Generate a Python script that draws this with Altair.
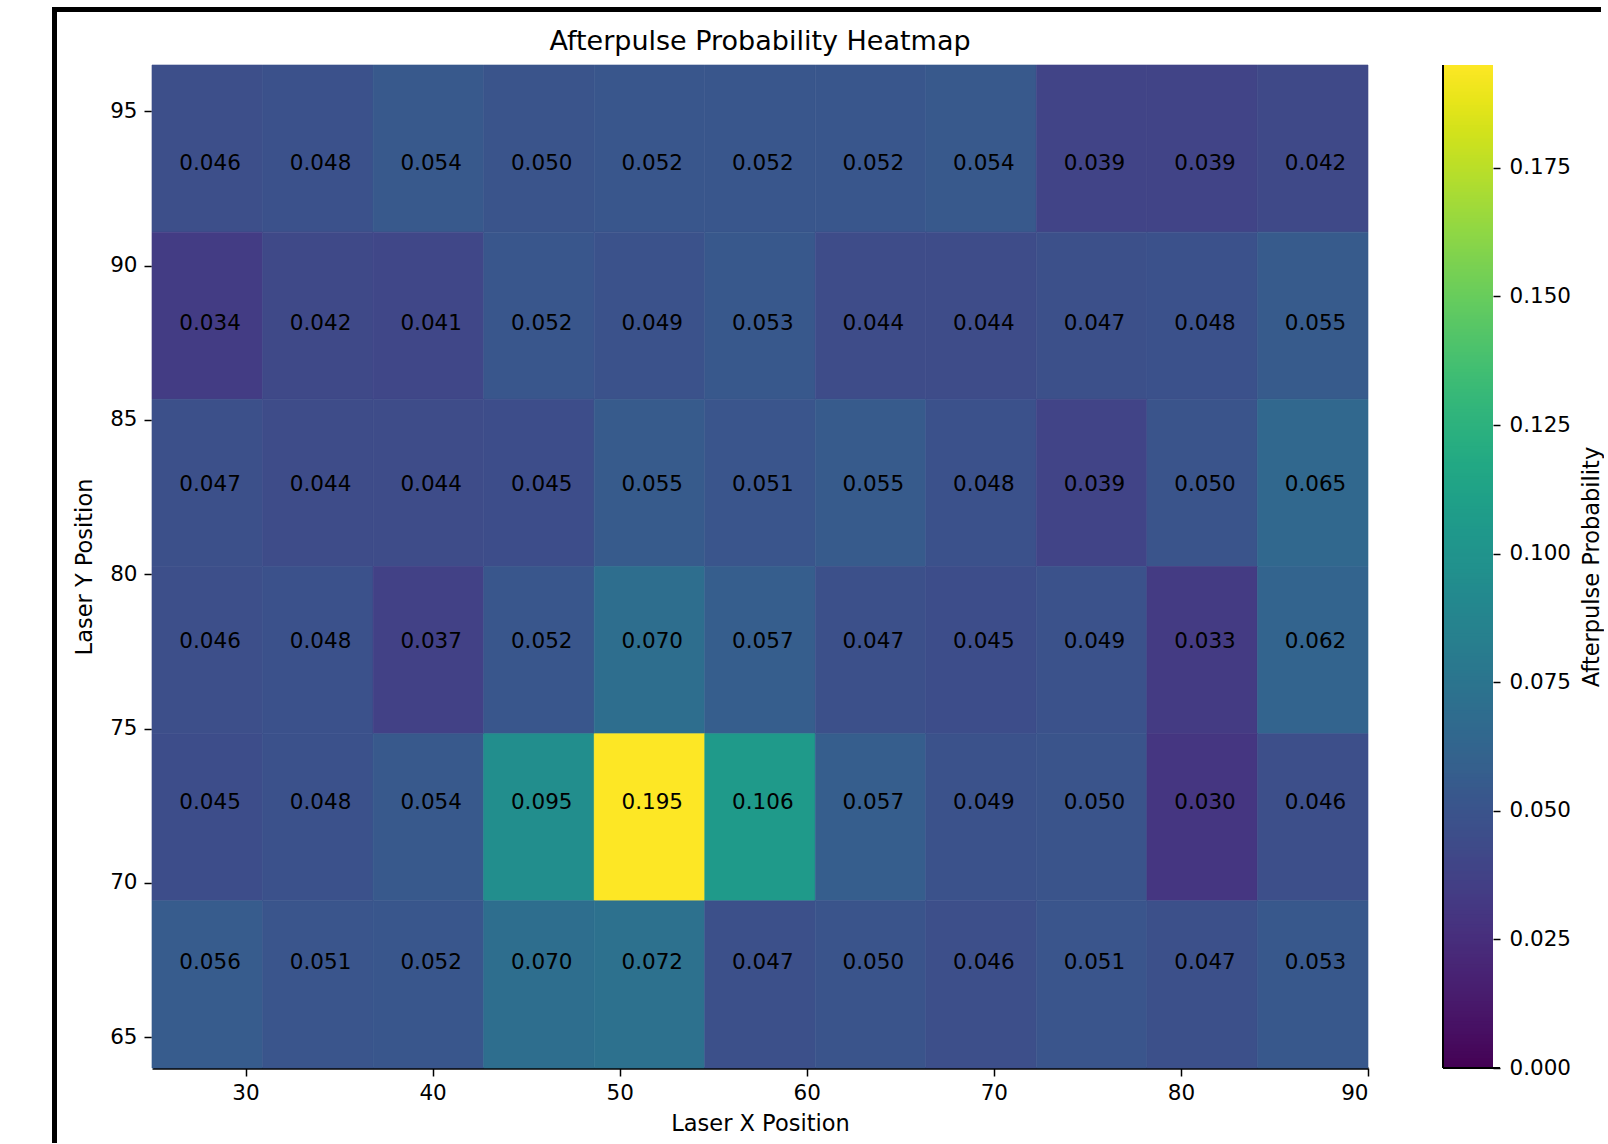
import altair as alt
import numpy as np
import pandas as pd

# Afterpulse probability per laser spot, rows listed from top (high Y) to bottom (low Y)
probability = [
    [0.046, 0.048, 0.054, 0.050, 0.052, 0.052, 0.052, 0.054, 0.039, 0.039, 0.042],
    [0.034, 0.042, 0.041, 0.052, 0.049, 0.053, 0.044, 0.044, 0.047, 0.048, 0.055],
    [0.047, 0.044, 0.044, 0.045, 0.055, 0.051, 0.055, 0.048, 0.039, 0.050, 0.065],
    [0.046, 0.048, 0.037, 0.052, 0.070, 0.057, 0.047, 0.045, 0.049, 0.033, 0.062],
    [0.045, 0.048, 0.054, 0.095, 0.195, 0.106, 0.057, 0.049, 0.050, 0.030, 0.046],
    [0.056, 0.051, 0.052, 0.070, 0.072, 0.047, 0.050, 0.046, 0.051, 0.047, 0.053],
]

x_ticks = [30, 40, 50, 60, 70, 80, 90]
y_ticks = [65, 70, 75, 80, 85, 90, 95]
cbar_ticks = [0.0, 0.025, 0.05, 0.075, 0.1, 0.125, 0.15, 0.175]

# image extent (left, right, bottom, top) and the Y coordinate of each row's label
x_lo, x_hi = 25.0, 90.0
y_lo, y_hi = 64.0, 96.5
label_y = [93.3, 88.1, 82.9, 77.8, 72.6, 67.4]

n_rows, n_cols = len(probability), len(probability[0])
x_edges = np.linspace(x_lo, x_hi, n_cols + 1)
y_edges = np.linspace(y_hi, y_lo, n_rows + 1)

records = []
for r, row in enumerate(probability):
    for c, v in enumerate(row):
        records.append({
            "x0": x_edges[c], "x1": x_edges[c + 1],
            "y0": y_edges[r + 1], "y1": y_edges[r],
            "xc": (x_edges[c] + x_edges[c + 1]) / 2 + 0.15, "yc": label_y[r],
            "p": v,
        })
cells_df = pd.DataFrame(records)
vmax = float(cells_df["p"].max())

FONT = "DejaVu Sans"
W, H = 1216, 1003
CB_W = 50
GAP = 75

color_scale = alt.Scale(scheme="viridis", domain=[0, vmax])
x_scale = alt.Scale(domain=[x_lo, x_hi], nice=False, zero=False)
y_scale = alt.Scale(domain=[y_lo, y_hi], nice=False, zero=False)

cells = alt.Chart(cells_df).mark_rect(strokeWidth=0.6).encode(
    x=alt.X("x0:Q", scale=x_scale,
            axis=alt.Axis(values=x_ticks, title="Laser X Position", format="d",
                          domainColor="black", domainWidth=2.5,
                          labelPadding=6, titlePadding=9)),
    x2="x1:Q",
    y=alt.Y("y0:Q", scale=y_scale,
            axis=alt.Axis(values=y_ticks, title="Laser Y Position", format="d",
                          domainColor="#e2e2e2", domainWidth=1.5,
                          labelPadding=7, titlePadding=13)),
    y2="y1:Q",
    color=alt.Color("p:Q", scale=color_scale, legend=None),
    stroke=alt.Stroke("p:Q", scale=color_scale, legend=None),
)

labels = alt.Chart(cells_df).mark_text(fontSize=21.5, font=FONT, color="black").encode(
    x="xc:Q",
    y="yc:Q",
    text=alt.Text("p:Q", format=".3f"),
)

heatmap = alt.layer(cells, labels).properties(
    width=W, height=H,
    title=alt.TitleParams("Afterpulse Probability Heatmap", fontSize=27, font=FONT,
                          fontWeight="normal", anchor="middle", frame="group",
                          baseline="alphabetic", offset=-12, color="black"),
)

# colour bar built from a fine ramp of the same colour scale
stops = np.linspace(0, vmax, 301)
step = stops[1] - stops[0]
cb_df = pd.DataFrame({
    "lo": stops[:-1],
    "hi": np.minimum(stops[:-1] + 2 * step, vmax),
    "mid": (stops[:-1] + stops[1:]) / 2,
})
ramp = alt.Chart(cb_df).mark_rect().encode(
    x=alt.value(0), x2=alt.value(CB_W),
    y=alt.Y("lo:Q", scale=alt.Scale(domain=[0, vmax], nice=False, zero=False),
            axis=alt.Axis(orient="right", values=cbar_ticks, format=".3f",
                          title="Afterpulse Probability", titleAngle=270,
                          titleBaseline="top",
                          domain=False, tickSize=7, labelPadding=9,
                          titlePadding=10)),
    y2="hi:Q",
    color=alt.Color("mid:Q", scale=color_scale, legend=None),
)
cb_left = alt.Chart(pd.DataFrame({"edge": ["left"]})).mark_rule(
    color="black", strokeWidth=2
).encode(x=alt.value(0), y=alt.value(0), y2=alt.value(H))
cb_bottom = alt.Chart(pd.DataFrame({"edge": ["bottom"]})).mark_rule(
    color="black", strokeWidth=2
).encode(x=alt.value(0), x2=alt.value(CB_W + 7), y=alt.value(H))

# outer black frame of the figure, offset from the colour bar's origin
origin_x = 100 + W + GAP
frame_left = alt.Chart(pd.DataFrame({"edge": ["left"]})).mark_rule(
    color="black", strokeWidth=5
).encode(x=alt.value(-origin_x + 2.5), y=alt.value(-58), y2=alt.value(1078))
frame_top = alt.Chart(pd.DataFrame({"edge": ["top"]})).mark_rule(
    color="black", strokeWidth=5
).encode(x=alt.value(-origin_x), x2=alt.value(158), y=alt.value(-55.5))

colorbar = alt.layer(ramp, cb_left, cb_bottom, frame_left, frame_top).properties(
    width=CB_W, height=H
)

chart = alt.hconcat(heatmap, colorbar, spacing=GAP, bounds="flush").properties(
    padding={"left": 49, "top": 4, "right": 0, "bottom": 0},
    background="white",
).configure_view(strokeWidth=0).configure_axis(
    grid=False,
    labelFont=FONT, labelFontSize=21.5, labelColor="black",
    titleFont=FONT, titleFontSize=22.5, titleFontWeight="normal", titleColor="black",
    tickColor="black", tickSize=8, tickWidth=1.5,
)

chart.save("out.html", embed_options={"renderer": "svg", "actions": False})
